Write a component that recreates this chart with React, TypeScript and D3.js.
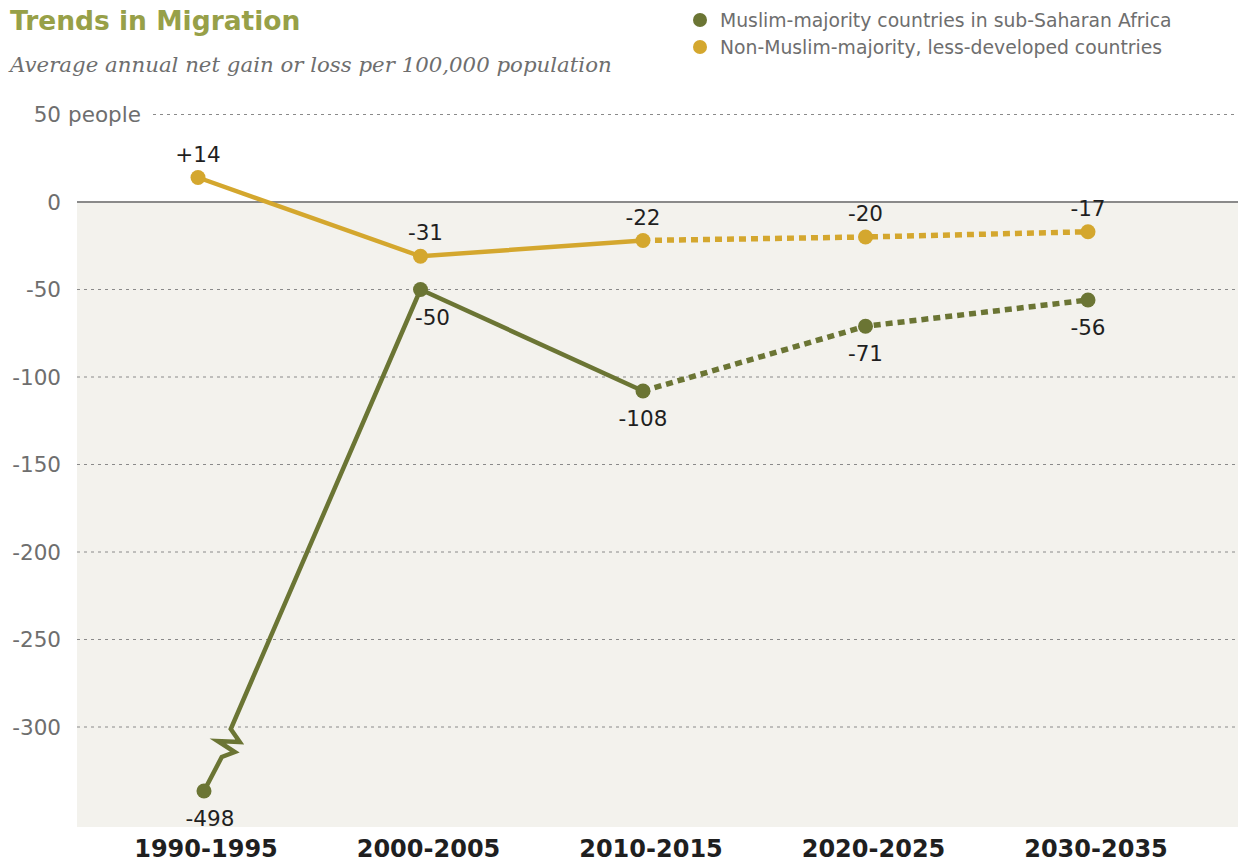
import React from 'react';
import * as d3 from 'd3';

// ---- Data ----
const categories = ['1990-1995', '2000-2005', '2010-2015', '2020-2025', '2030-2035'];
const muslimSSA = [-498, -50, -108, -71, -56];
const nonMuslimLDC = [14, -31, -22, -20, -17];
const seriesNames = [
  'Muslim-majority countries in sub-Saharan Africa',
  'Non-Muslim-majority, less-developed countries',
];
const yTicks = [50, 0, -50, -100, -150, -200, -250, -300];
const projectionStart = 2; // index from which values are projections (dashed)

// ---- Styling / layout ----
const W = 1238;
const H = 863;
const GREEN = '#6b7534';
const GOLD = '#d4a72e';
const TITLE = '#97a048';
const GRAY = '#6e6e6e';
const DARK = '#1f1f1f';
const BG = '#f3f2ed';
const SANS = '"DejaVu Sans", Verdana, sans-serif';
const SERIF = '"DejaVu Serif", Georgia, serif';

const plotLeft = 77;
const plotRight = W;
const plotBottom = 827;

const x = d3.scalePoint<string>().domain(categories).range([198, 1088]);
// broken axis: values below -318 are compressed
const y = d3.scaleLinear().domain([-498, -318, 50]).range([791, 758.5, 114.5]);

const fmt = (v: number) => (v > 0 ? `+${v}` : `${v}`);

export default function App() {
  const breakShift = 6;
  const pt = (s: number[], i: number): [number, number] => [
    x(categories[i])! + (s[i] < -318 ? breakShift : 0),
    y(s[i]),
  ];

  const line = d3.line<[number, number]>();

  // Gold series
  const goldPts = nonMuslimLDC.map((_, i) => pt(nonMuslimLDC, i));
  const goldSolid = line(goldPts.slice(0, projectionStart + 1))!;
  const goldDash = line(goldPts.slice(projectionStart))!;

  // Green series with axis break between first two points
  const greenPts = muslimSSA.map((_, i) => pt(muslimSSA, i));
  const [p0, p1] = greenPts;
  const atY = (yy: number): [number, number] => {
    const t = (yy - p1[1]) / (p0[1] - p1[1]);
    return [p1[0] + t * (p0[0] - p1[0]), yy];
  };
  const bTop = atY(y(-300) + 2);
  const zig: [number, number][] = [
    p1,
    bTop,
    [bTop[0] + 9, bTop[1] + 13],
    [bTop[0] - 13, bTop[1] + 12],
    [bTop[0] + 4, bTop[1] + 23],
    [bTop[0] - 9, bTop[1] + 28],
    p0,
  ];
  const greenBreak = line(zig)!;
  const greenSolid = line(greenPts.slice(1, projectionStart + 1))!;
  const greenDash = line(greenPts.slice(projectionStart))!;

  const labelDx: Record<string, number> = { g0: 6, g1: 12, o1: 5 };
  const xLabelDx = 8;

  return (
    <svg
      width={W}
      height={H}
      style={{ position: 'absolute', left: 0, top: 0, background: '#fff' }}
    >
      {/* title */}
      <text x={10} y={30} fontFamily={SANS} fontWeight="bold" fontSize={26.5} fill={TITLE}>
        Trends in Migration
      </text>
      <text x={10} y={72} fontFamily={SERIF} fontStyle="italic" fontSize={21.3} fill={GRAY}>
        Average annual net gain or loss per 100,000 population
      </text>

      {/* legend */}
      {[GREEN, GOLD].map((c, i) => (
        <g key={i}>
          <circle cx={700} cy={20 + i * 27} r={7} fill={c} />
          <text x={720} y={26.5 + i * 27} fontFamily={SANS} fontSize={18.8} fill={GRAY}>
            {seriesNames[i]}
          </text>
        </g>
      ))}

      {/* plot background */}
      <rect x={plotLeft} y={y(0)} width={plotRight - plotLeft} height={plotBottom - y(0)} fill={BG} />

      {/* gridlines and y labels */}
      {yTicks.map((t) => (
        <g key={t}>
          {t !== 0 && (
            <line
              x1={t === 50 ? 153 : plotLeft}
              x2={plotRight}
              y1={y(t)}
              y2={y(t)}
              stroke="#8a8a8a"
              strokeWidth={1}
              strokeDasharray="3,4"
            />
          )}
          <text
            x={61}
            y={y(t)}
            dy="0.36em"
            textAnchor="end"
            fontFamily={SANS}
            fontSize={21.5}
            fill={GRAY}
          >
            {t}
          </text>
          {t === 50 && (
            <text x={68} y={y(t)} dy="0.36em" fontFamily={SANS} fontSize={21.5} fill={GRAY}>
              people
            </text>
          )}
        </g>
      ))}
      <line x1={plotLeft} x2={plotRight} y1={y(0)} y2={y(0)} stroke="#8a8a8a" strokeWidth={2} />

      {/* green series */}
      <path d={greenBreak} fill="none" stroke={GREEN} strokeWidth={4.5} strokeLinejoin="miter" />
      <path d={greenSolid} fill="none" stroke={GREEN} strokeWidth={4.5} />
      <path d={greenDash} fill="none" stroke={GREEN} strokeWidth={5.5} strokeDasharray="7,5" />

      {/* gold series */}
      <path d={goldSolid} fill="none" stroke={GOLD} strokeWidth={4.5} />
      <path d={goldDash} fill="none" stroke={GOLD} strokeWidth={5.5} strokeDasharray="7,5" />

      {greenPts.map((p, i) => (
        <circle key={'gc' + i} cx={p[0]} cy={p[1]} r={7.5} fill={GREEN} />
      ))}
      {goldPts.map((p, i) => (
        <circle key={'oc' + i} cx={p[0]} cy={p[1]} r={7.5} fill={GOLD} />
      ))}

      {/* value labels */}
      {greenPts.map((p, i) => (
        <text
          key={'gl' + i}
          x={p[0] + (labelDx['g' + i] || 0)}
          y={p[1] + 35}
          textAnchor="middle"
          fontFamily={SANS}
          fontSize={21.5}
          fill={DARK}
        >
          {fmt(muslimSSA[i])}
        </text>
      ))}
      {goldPts.map((p, i) => (
        <text
          key={'ol' + i}
          x={p[0] + (labelDx['o' + i] || 0)}
          y={p[1] - 16}
          textAnchor="middle"
          fontFamily={SANS}
          fontSize={21.5}
          fill={DARK}
        >
          {fmt(nonMuslimLDC[i])}
        </text>
      ))}

      {/* x labels */}
      {categories.map((c) => (
        <text
          key={c}
          x={x(c)! + xLabelDx}
          y={857}
          textAnchor="middle"
          fontFamily={SANS}
          fontWeight="bold"
          fontSize={24}
          fill={DARK}
        >
          {c}
        </text>
      ))}
    </svg>
  );
}
